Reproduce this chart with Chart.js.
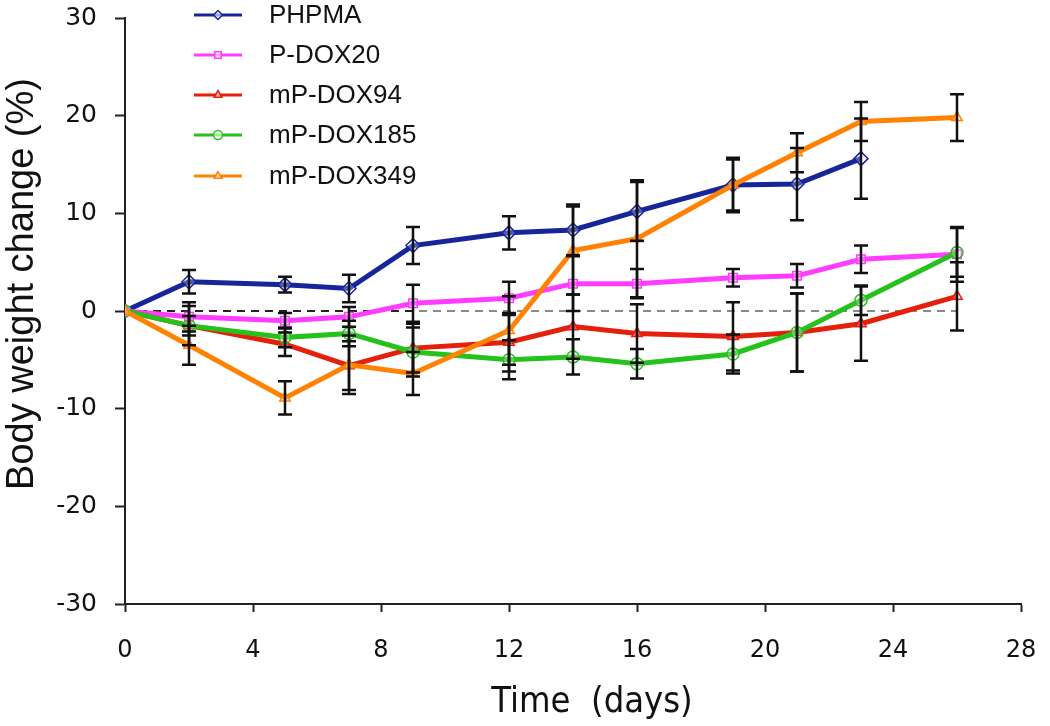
<!DOCTYPE html>
<html>
<head>
<meta charset="utf-8">
<script src="https://cdn.jsdelivr.net/npm/chart.js@4"></script>
<style>
html,body{margin:0;padding:0;background:#fff;}
#wrap{width:1050px;height:726px;position:relative;}
</style>
</head>
<body>
<div id="wrap"><canvas id="c" width="1050" height="726"></canvas></div>
<script>
const seriesNames = ['PHPMA','P-DOX20','mP-DOX94','mP-DOX185','mP-DOX349'];
const daysPHPMA = [0,2,5,7,9,12,14,16,19,21,23];
const daysOther = [0,2,5,7,9,12,14,16,19,21,23,26];
const phpma     = [0,3.0,2.7,2.3,6.7,8.0,8.3,10.2,12.9,13.0,15.6];
const phpmaErr  = [0,1.2,0.8,1.4,1.9,1.7,2.6,3.0,2.8,3.7,4.1];
const pdox20    = [0,-0.6,-1.0,-0.6,0.8,1.3,2.8,2.8,3.4,3.6,5.3,5.8];
const pdox20Err = [0,1.5,0.8,1.0,1.9,1.7,2.8,1.5,0.9,1.2,1.4,2.8];
const mp94      = [0,-1.5,-3.4,-5.6,-3.8,-3.2,-1.6,-2.3,-2.6,-2.2,-1.3,1.5];
const mp94Err   = [0,2.0,1.2,2.5,2.5,3.0,3.3,3.0,3.5,4.0,3.8,3.5];
const mp185     = [0,-1.5,-2.7,-2.3,-4.2,-5.0,-4.7,-5.4,-4.4,-2.2,1.1,6.0];
const mp185Err  = [0,1.0,1.0,1.3,2.5,2.0,1.8,1.5,2.0,4.0,1.5,2.5];
const mp349     = [0,-3.5,-8.9,-5.5,-6.4,-2.0,6.2,7.4,12.9,16.2,19.4,19.8];
const mp349Err  = [0,2.0,1.7,3.0,2.2,3.5,4.5,6.0,2.6,2.0,2.0,2.4];
const xTicks = [0,4,8,12,16,20,24,28];
const yTicks = [-30,-20,-10,0,10,20,30];
const zeroLineBlackDays = [0,9];
const zeroLineGrayDays = [0,26];
const xTitle = 'Time  (days)';
const yTitle = 'Body weight change (%)';

const colors = ['#17259a','#ff3cff','#e4200c','#26c21c','#ff8205'];
const styles = ['rectRot','rect','triangle','circle','triangle'];
const valueSets = [phpma,pdox20,mp94,mp185,mp349];
const errSets = [phpmaErr,pdox20Err,mp94Err,mp185Err,mp349Err];
const daySets = [daysPHPMA,daysOther,daysOther,daysOther,daysOther];

const toPts = (xs, ys) => xs.map((x,i)=>({x:x,y:ys[i]}));

const datasets = [
  {label:'zeroGray', data: zeroLineGrayDays.map(d=>({x:d,y:0})), borderColor:'#8a8a8a', borderWidth:2, borderDash:[8,6], pointRadius:0, order:10},
  {label:'zeroBlack', data: zeroLineBlackDays.map(d=>({x:d,y:0})), borderColor:'#222', borderWidth:2, borderDash:[8,6], pointRadius:0, order:9}
];
seriesNames.forEach((n,i)=>{
  datasets.push({
    label:n,
    data: toPts(daySets[i], valueSets[i]),
    errors: errSets[i],
    borderColor: colors[i],
    backgroundColor: 'rgba(255,255,255,0)',
    borderWidth: 5,
    pointStyle: styles[i],
    pointRadius: i===0 ? 7 : 6,
    pointBorderWidth: 1.5,
    pointBorderColor: colors[i],
    pointBackgroundColor: 'rgba(255,255,255,0.25)',
    tension: 0,
    order: 5-i
  });
});

const errorBars = {
  id:'errorBars',
  afterDatasetsDraw(chart){
    const ctx = chart.ctx, ys = chart.scales.y, xs = chart.scales.x;
    ctx.save();
    ctx.strokeStyle = '#111';
    ctx.lineWidth = 2.5;
    chart.data.datasets.forEach(ds=>{
      if(!ds.errors) return;
      ds.data.forEach((p,i)=>{
        const e = ds.errors[i];
        if(!e) return;
        const px = xs.getPixelForValue(p.x);
        const top = ys.getPixelForValue(p.y+e), bot = ys.getPixelForValue(p.y-e);
        ctx.beginPath();
        ctx.moveTo(px, top); ctx.lineTo(px, bot);
        ctx.moveTo(px-7, top); ctx.lineTo(px+7, top);
        ctx.moveTo(px-7, bot); ctx.lineTo(px+7, bot);
        ctx.stroke();
      });
    });
    ctx.restore();
  }
};

const legendAndTitles = {
  id:'customLegend',
  afterDraw(chart){
    const ctx = chart.ctx;
    const rowsY = [15,55,95,135,176];
    ctx.save();
    chart.data.datasets.forEach(ds=>{
      const idx = seriesNames.indexOf(ds.label);
      if(idx<0) return;
      const y = rowsY[idx];
      ctx.strokeStyle = ds.borderColor;
      ctx.lineWidth = 3;
      ctx.beginPath(); ctx.moveTo(194,y); ctx.lineTo(242,y); ctx.stroke();
      ctx.fillStyle = 'rgba(255,255,255,0.6)';
      ctx.lineWidth = 1.5;
      Chart.helpers.drawPoint(ctx, {pointStyle: ds.pointStyle, radius: 4.5, borderWidth: 1.5}, 218, y);
      ctx.fillStyle = '#111';
      ctx.font = '26px "Liberation Sans", Arial, sans-serif';
      ctx.textBaseline = 'middle';
      ctx.textAlign = 'left';
      ctx.fillText(ds.label, 269, y+1);
    });
    // axis titles
    ctx.fillStyle = '#111';
    ctx.textAlign = 'center';
    ctx.textBaseline = 'alphabetic';
    ctx.font = '36px "DejaVu Sans Condensed", "DejaVu Sans", sans-serif';
    ctx.fillText(xTitle, 592, 712);
    ctx.translate(33, 284);
    ctx.rotate(-Math.PI/2);
    ctx.font = '38px "Liberation Sans", Arial, sans-serif';
    ctx.fillText(yTitle, 0, 0);
    ctx.restore();
  }
};

new Chart(document.getElementById('c'), {
  type:'line',
  data:{datasets},
  options:{
    responsive:false,
    animation:false,
    devicePixelRatio:1,
    layout:{padding:{top:18,right:29,left:0,bottom:0}},
    plugins:{legend:{display:false}, tooltip:{enabled:false}},
    scales:{
      x:{
        type:'linear', min:0, max:28,
        afterBuildTicks(s){ s.ticks = xTicks.map(v=>({value:v})); },
        afterFit(s){ s.height = 122; s.paddingLeft = 0; s.paddingRight = 0; },
        grid:{display:true, drawOnChartArea:false, drawTicks:true, tickLength:8, color:'#222', tickWidth:2},
        border:{display:true, color:'#222', width:2},
        ticks:{color:'#111', font:{family:'"DejaVu Sans", sans-serif', size:24}, padding:24, maxRotation:0}
      },
      y:{
        type:'linear', min:-30, max:30,
        afterBuildTicks(s){ s.ticks = yTicks.map(v=>({value:v})); },
        afterFit(s){ s.width = 125; s.paddingTop = 0; s.paddingBottom = 0; },
        grid:{display:true, drawOnChartArea:false, drawTicks:true, tickLength:10, color:'#222', tickWidth:2},
        border:{display:true, color:'#222', width:2},
        ticks:{color:'#111', font:{family:'"DejaVu Sans", sans-serif', size:25}, padding:18}
      }
    }
  },
  plugins:[errorBars, legendAndTitles]
});
</script>
</body>
</html>
